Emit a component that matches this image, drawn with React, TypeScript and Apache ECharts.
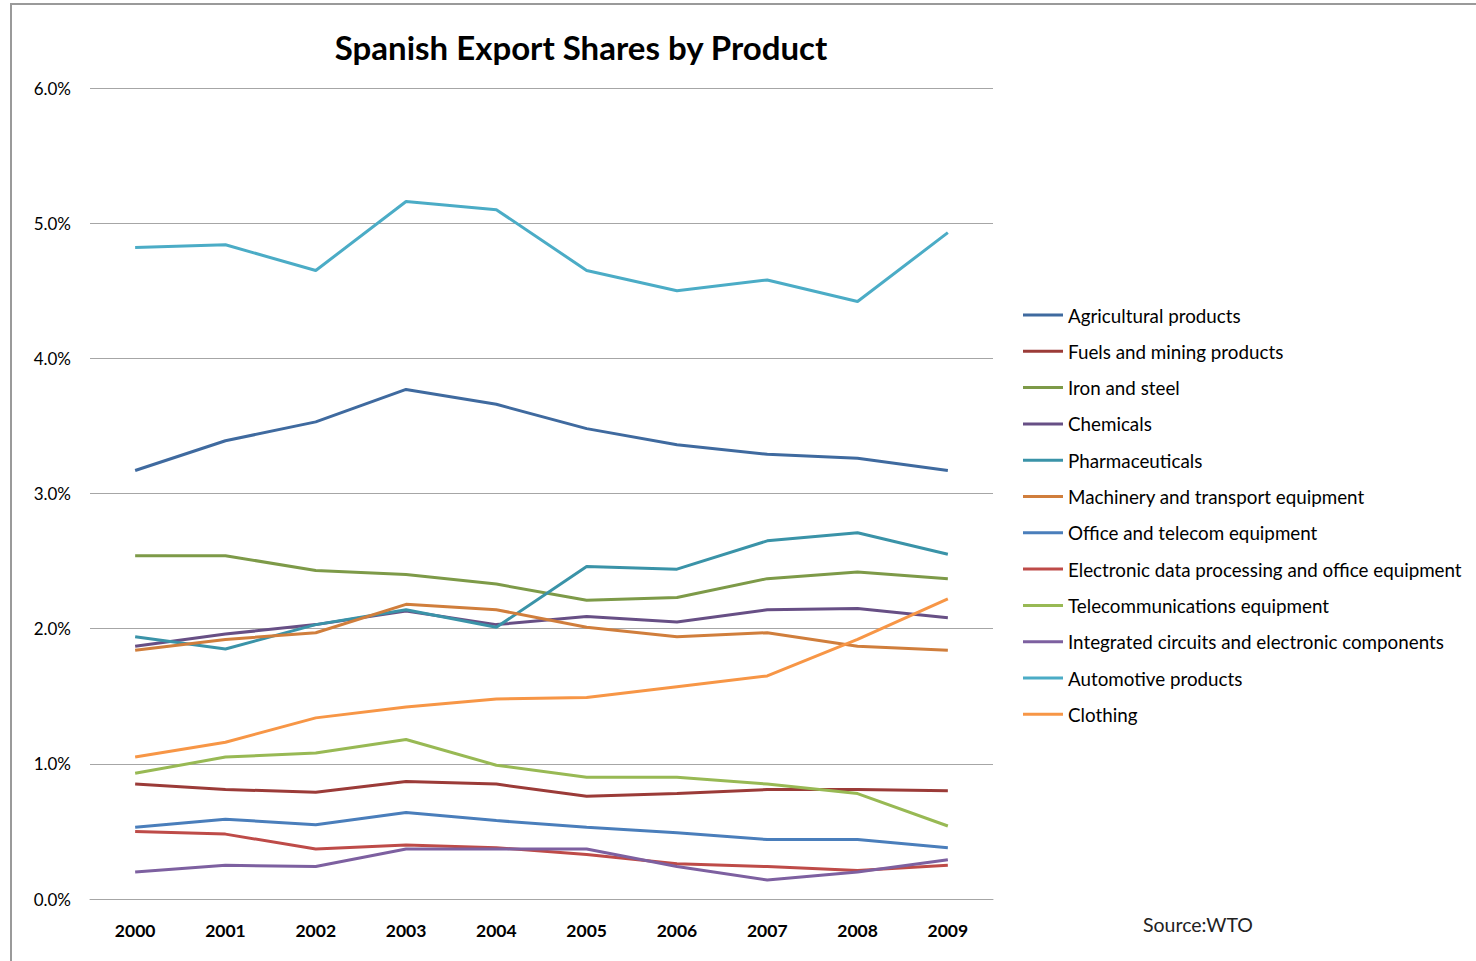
import React, { useEffect, useRef } from "react";
import * as echarts from "echarts";

const years = ["2000", "2001", "2002", "2003", "2004", "2005", "2006", "2007", "2008", "2009"];

const seriesNames = [
  "Agricultural products",
  "Fuels and mining products",
  "Iron and steel",
  "Chemicals",
  "Pharmaceuticals",
  "Machinery and transport equipment",
  "Office and telecom equipment",
  "Electronic data processing and office equipment",
  "Telecommunications equipment",
  "Integrated circuits and electronic components",
  "Automotive products",
  "Clothing",
];

const seriesColors = [
  "#3F6A9F",
  "#9B3B38",
  "#7D9A48",
  "#674F85",
  "#3A93A8",
  "#D07E3C",
  "#4A7EBB",
  "#BE4B48",
  "#98B954",
  "#7D60A0",
  "#4BACC6",
  "#F79646",
];

const agricultural = [3.17, 3.39, 3.53, 3.77, 3.66, 3.48, 3.36, 3.29, 3.26, 3.17];
const fuels = [0.85, 0.81, 0.79, 0.87, 0.85, 0.76, 0.78, 0.81, 0.81, 0.80];
const ironSteel = [2.54, 2.54, 2.43, 2.40, 2.33, 2.21, 2.23, 2.37, 2.42, 2.37];
const chemicals = [1.87, 1.96, 2.03, 2.13, 2.03, 2.09, 2.05, 2.14, 2.15, 2.08];
const pharmaceuticals = [1.94, 1.85, 2.03, 2.14, 2.01, 2.46, 2.44, 2.65, 2.71, 2.55];
const machinery = [1.84, 1.92, 1.97, 2.18, 2.14, 2.01, 1.94, 1.97, 1.87, 1.84];
const officeTelecom = [0.53, 0.59, 0.55, 0.64, 0.58, 0.53, 0.49, 0.44, 0.44, 0.38];
const edp = [0.50, 0.48, 0.37, 0.40, 0.38, 0.33, 0.26, 0.24, 0.21, 0.25];
const telecom = [0.93, 1.05, 1.08, 1.18, 0.99, 0.90, 0.90, 0.85, 0.78, 0.54];
const integratedCircuits = [0.20, 0.25, 0.24, 0.37, 0.37, 0.37, 0.24, 0.14, 0.20, 0.29];
const automotive = [4.82, 4.84, 4.65, 5.16, 5.10, 4.65, 4.50, 4.58, 4.42, 4.93];
const clothing = [1.05, 1.16, 1.34, 1.42, 1.48, 1.49, 1.57, 1.65, 1.92, 2.22];

const seriesData = [
  agricultural,
  fuels,
  ironSteel,
  chemicals,
  pharmaceuticals,
  machinery,
  officeTelecom,
  edp,
  telecom,
  integratedCircuits,
  automotive,
  clothing,
];

const yTicks = [0, 1, 2, 3, 4, 5, 6];

const FONT = "Lato, 'Open Sans', sans-serif";

export default function App() {
  const ref = useRef<HTMLDivElement>(null);

  useEffect(() => {
    if (!ref.current) return;
    const chart = echarts.init(ref.current, undefined, { renderer: "svg" });
    chart.setOption({
      animation: false,
      backgroundColor: "#ffffff",
      title: {
        text: "Spanish Export Shares by Product",
        left: 576,
        top: 25,
        textAlign: "center",
        textStyle: { fontFamily: FONT, fontSize: 33, fontWeight: "bold", color: "#000" },
      },
      grid: { left: 90, right: 483, top: 88, bottom: 62, containLabel: false },
      legend: {
        orient: "vertical",
        left: 1018,
        top: 300,
        itemWidth: 40,
        itemHeight: 3,
        itemGap: 16.3,
        icon: "rect",
        data: seriesNames,
        textStyle: { fontFamily: FONT, fontSize: 18.8, color: "#000", lineHeight: 20 },
      },
      xAxis: {
        type: "category",
        data: years,
        boundaryGap: true,
        axisLine: { show: true, lineStyle: { color: "#A6A6A6", width: 1 } },
        axisTick: { show: false },
        axisLabel: { fontFamily: FONT, fontSize: 17.5, fontWeight: "bold", color: "#000", margin: 22 },
      },
      yAxis: {
        type: "value",
        min: yTicks[0],
        max: yTicks[yTicks.length - 1],
        interval: 1,
        axisLine: { show: false },
        axisTick: { show: false },
        splitLine: { show: true, lineStyle: { color: "#A6A6A6", width: 1 } },
        axisLabel: {
          fontFamily: FONT,
          fontSize: 17,
          color: "#000",
          margin: 19,
          formatter: (v: number) => `${v.toFixed(1)}%`,
        },
      },
      graphic: [
        {
          type: "rect",
          shape: { x: 11, y: 4, width: 1470, height: 970 },
          style: { fill: "none", stroke: "#9a9a9a", lineWidth: 2 },
          silent: true,
        },
        {
          type: "text",
          left: 1143,
          top: 914,
          style: { text: "Source:WTO", fontFamily: FONT, fontSize: 19.5, fill: "#222" },
        },
      ],
      series: seriesNames.map((name, i) => ({
        name,
        type: "line",
        data: seriesData[i],
        symbol: "none",
        lineStyle: { color: seriesColors[i], width: 3 },
        itemStyle: { color: seriesColors[i] },
        emphasis: { disabled: true },
      })),
    });
    return () => chart.dispose();
  }, []);

  return (
    <div
      ref={ref}
      style={{ position: "fixed", left: 0, top: 0, width: 1476, height: 961 }}
    />
  );
}
